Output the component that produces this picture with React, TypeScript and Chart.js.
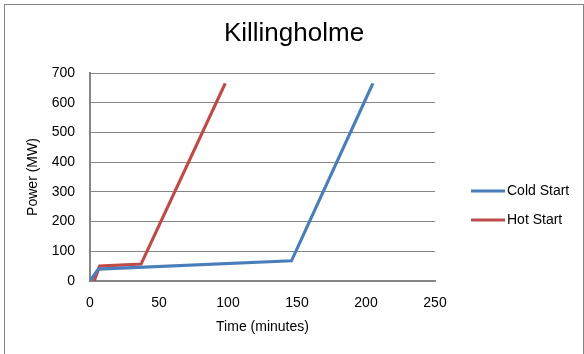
import React, { useEffect, useRef } from "react";
import { Chart, registerables } from "chart.js";

Chart.register(...registerables);

// Start-up curves for the Killingholme units
const chartTitle = "Killingholme";
const seriesNames = ["Cold Start", "Hot Start"];
const coldTime = [0, 6, 146, 205];
const coldPower = [0, 40, 68, 665];
const hotTime = [3, 7, 37, 98];
const hotPower = [0, 50, 57, 665];
const xTitle = "Time (minutes)";
const yTitle = "Power (MW)";

const FONT = "'Liberation Sans', Arial, sans-serif";
const BLUE = "#4a7ebb";
const RED = "#be4b48";
const AXIS_GREY = "#868686";

// Draws the chart title and the right-hand legend on the canvas
const decorPlugin = {
  id: "decor",
  afterDraw(chart: any) {
    const { ctx } = chart;
    ctx.save();
    ctx.fillStyle = "#000";
    ctx.font = `26px ${FONT}`;
    ctx.textAlign = "center";
    ctx.textBaseline = "middle";
    ctx.fillText(chartTitle, 294, 34);

    ctx.font = `14px ${FONT}`;
    ctx.textAlign = "left";
    chart.data.datasets.forEach((ds: any, i: number) => {
      const y = 191 + i * 29;
      ctx.strokeStyle = ds.borderColor;
      ctx.lineWidth = 3;
      ctx.beginPath();
      ctx.moveTo(471, y);
      ctx.lineTo(505, y);
      ctx.stroke();
      ctx.fillStyle = "#000";
      ctx.fillText(ds.label, 507, y);
    });
    ctx.restore();
  },
};

export default function App() {
  const canvasRef = useRef<HTMLCanvasElement | null>(null);

  useEffect(() => {
    if (!canvasRef.current) return;
    const chart = new Chart(canvasRef.current, {
      type: "line",
      data: {
        datasets: [
          {
            label: seriesNames[0],
            data: coldTime.map((t, i) => ({ x: t, y: coldPower[i] })),
            borderColor: BLUE,
            backgroundColor: BLUE,
            borderWidth: 3.2,
            pointRadius: 0,
            tension: 0,
          },
          {
            label: seriesNames[1],
            data: hotTime.map((t, i) => ({ x: t, y: hotPower[i] })),
            borderColor: RED,
            backgroundColor: RED,
            borderWidth: 3.2,
            pointRadius: 0,
            tension: 0,
          },
        ],
      },
      options: {
        animation: false,
        responsive: true,
        maintainAspectRatio: false,
        layout: { padding: { top: 73, right: 149, left: 0, bottom: 0 } },
        plugins: {
          legend: { display: false },
          title: { display: false },
          tooltip: { enabled: false },
        },
        scales: {
          x: {
            type: "linear",
            min: 0,
            max: 250,
            ticks: {
              stepSize: 50,
              padding: 14,
              color: "#000",
              font: { family: FONT, size: 14 },
            },
            grid: { display: false, drawTicks: false },
            border: { display: true, color: AXIS_GREY, width: 2 },
            title: {
              display: true,
              text: xTitle,
              color: "#000",
              font: { family: FONT, size: 14 },
              padding: { top: 0, bottom: 18 },
            },
            afterFit(scale: any) {
              scale.height = 73;
            },
          },
          y: {
            min: 0,
            max: 700,
            ticks: {
              stepSize: 100,
              padding: 15,
              color: "#000",
              font: { family: FONT, size: 14 },
            },
            grid: { color: AXIS_GREY, lineWidth: 1, drawTicks: false },
            border: { display: true, color: AXIS_GREY, width: 2 },
            title: {
              display: true,
              text: yTitle,
              color: "#000",
              font: { family: FONT, size: 14 },
              padding: { top: 25, bottom: 0 },
            },
            afterFit(scale: any) {
              scale.width = 90;
            },
          },
        },
      },
      plugins: [decorPlugin],
    });
    return () => chart.destroy();
  }, []);

  return (
    <div style={{ position: "fixed", left: 0, top: 0, width: 584, height: 354, background: "#fff" }}>
      <div
        style={{
          position: "absolute",
          left: 4,
          top: 4,
          width: 580,
          height: 360,
          boxSizing: "border-box",
          border: `1px solid ${AXIS_GREY}`,
        }}
      />
      <div style={{ position: "absolute", left: 0, top: 0, width: 584, height: 354 }}>
        <canvas ref={canvasRef} />
      </div>
    </div>
  );
}
